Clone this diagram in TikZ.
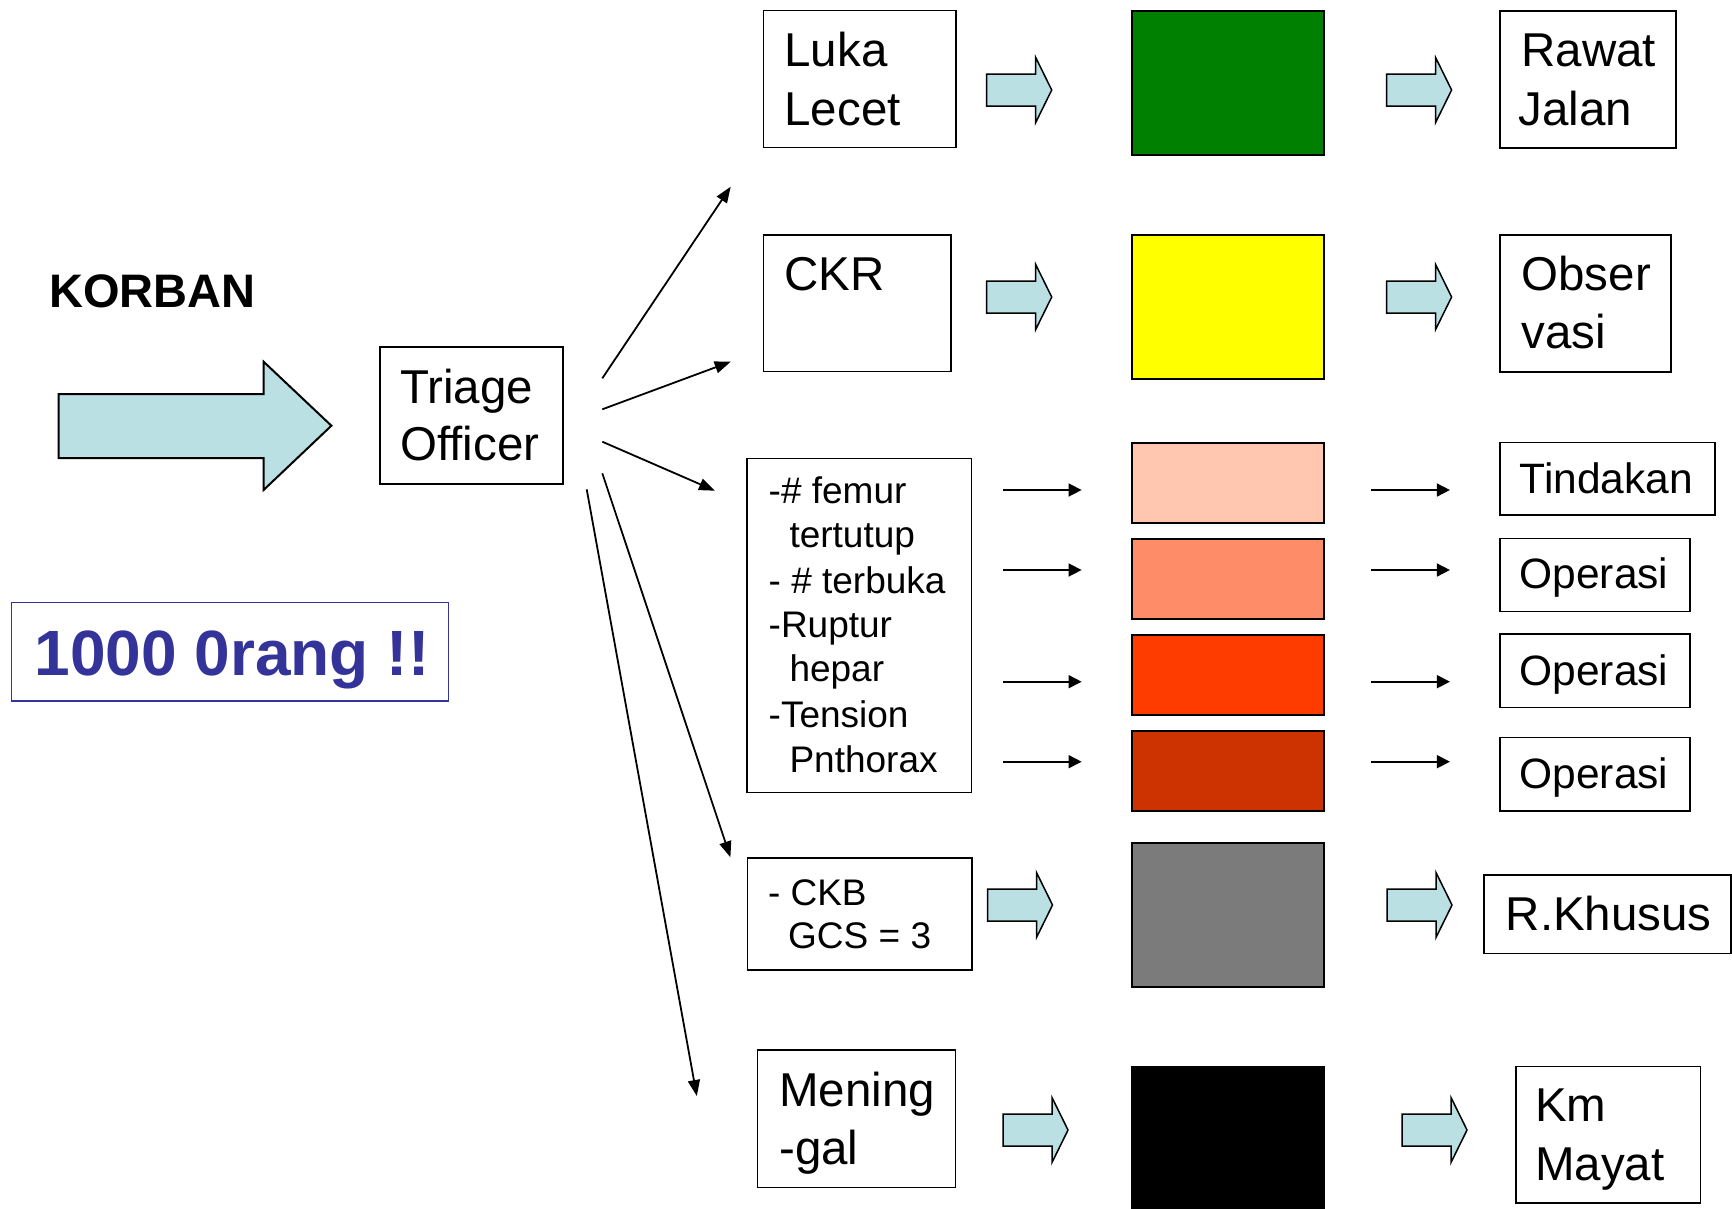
\documentclass[tikz,border=0pt]{standalone}
\usepackage{fontspec}
\setmainfont{Liberation Sans}
\usetikzlibrary{arrows.meta}

\definecolor{arrowblue}{HTML}{BBE0E3}
\definecolor{titleblue}{HTML}{333399}
\definecolor{tgreen}{HTML}{008000}
\definecolor{tyellow}{HTML}{FFFF00}
\definecolor{tpeach}{HTML}{FFC6B0}
\definecolor{tsalmon}{HTML}{FF8C69}
\definecolor{tred}{HTML}{FF3C00}
\definecolor{tdarkred}{HTML}{CC3300}
\definecolor{tgray}{HTML}{7B7B7B}

\tikzset{
  box/.style={draw=black, line width=1.5pt, rectangle, inner sep=0pt, anchor=north west, fill=white},
  swatch/.style={draw=black, line width=2.2pt, rectangle, inner sep=0pt, anchor=north west},
  big/.style={font=\fontsize{47.5}{57}\selectfont, inner sep=0pt, anchor=base west},
  mid/.style={font=\fontsize{42.5}{50}\selectfont, inner sep=0pt, anchor=base west},
  small/.style={font=\fontsize{37}{44}\selectfont, inner sep=0pt, anchor=base west},
  fan/.style={line width=1.8pt, -{Triangle[length=16pt,width=12pt]}},
  thin/.style={line width=1.6pt, -{Triangle[length=13pt,width=13pt]}},
  blockarrow/.pic={
    \draw[fill=arrowblue, line width=1.5pt, line join=miter]
      (0,-16) -- (49,-16) -- (49,-32.5) -- (65,0) -- (49,32.5) -- (49,16) -- (0,16) -- cycle;
  }
}

\begin{document}
\begin{tikzpicture}[x=1pt, y=-1pt]
\useasboundingbox (0,0) rectangle (1732,1208);
\fill[white] (0,0) rectangle (1732,1208);
\clip (0,0) rectangle (1732,1208);

% left side: victims, incoming arrow, triage officer
\node[font=\fontsize{47}{56}\selectfont\bfseries, inner sep=0pt, anchor=base west] (korban) at (49,307) {KORBAN};
\draw[fill=arrowblue, line width=2pt, line join=miter]
  (58.6,394) -- (263.6,394) -- (263.6,361.7) -- (331.4,425.7) -- (263.6,490) -- (263.6,458) -- (58.6,458) -- cycle;
\node[box, minimum width=183pt, minimum height=137pt] (triage) at (379,346) {};
\node[big] (triage-a) at (400,403) {Triage};
\node[big] (triage-b) at (400,460) {Officer};

\node[box, draw=titleblue, line width=1.6pt, minimum width=436.8pt, minimum height=98.3pt] (count) at (10.7,601.7) {};
\node[font=\fontsize{64}{72}\selectfont\bfseries, text=titleblue, inner sep=0pt, anchor=base west] (count-t) at (34.5,675) {1000 0rang !!};

% fan of arrows out of the triage officer
\coordinate (f1s) at (602.3,378.3); \coordinate (f1e) at (730.7,186.7);
\coordinate (f2s) at (602.3,409.3); \coordinate (f2e) at (730.7,361.7);
\coordinate (f3s) at (602.3,441.7); \coordinate (f3e) at (715,490.7);
\coordinate (f4s) at (602.3,473.3); \coordinate (f4e) at (730.4,857.3);
\coordinate (f5s) at (586.7,489.3); \coordinate (f5e) at (696.8,1096);
\foreach \i in {1,...,5} \draw[fan] (f\i s) -- (f\i e);

% row 1: green
\node[box, minimum width=192.3pt, minimum height=137pt] (luka) at (762.8,9.7) {};
\node[big] (luka-a) at (784.3,66.7) {Luka};
\node[big] (luka-b) at (784.3,125) {Lecet};
\pic at (986.7,90) {blockarrow};
\node[swatch, fill=tgreen, minimum width=191.7pt, minimum height=144pt] (green) at (1131,10) {};
\pic at (1386.6,90) {blockarrow};
\node[box, minimum width=175.9pt, minimum height=137pt] (rawat) at (1499.2,10) {};
\node[big] (rawat-a) at (1521.3,66.7) {Rawat};
\node[big] (rawat-b) at (1518.5,125) {Jalan};

% row 2: yellow
\node[box, minimum width=187.2pt, minimum height=136.7pt] (ckr) at (762.8,234) {};
\node[big] (ckr-a) at (784.3,290) {CKR};
\pic at (986.7,297) {blockarrow};
\node[swatch, fill=tyellow, minimum width=191.7pt, minimum height=143.7pt] (yellow) at (1131,234) {};
\pic at (1386.6,297) {blockarrow};
\node[box, minimum width=170.8pt, minimum height=137pt] (obser) at (1499.2,234) {};
\node[big] (obser-a) at (1521.3,290) {Obser};
\node[big] (obser-b) at (1521.3,348) {vasi};

% row 3: red shades
\node[box, minimum width=224.6pt, minimum height=334pt] (list) at (746.3,457.7) {};
\node[small] (l1) at (768.5,503) {-\# femur};
\node[small] (l2) at (789.3,547) {tertutup};
\node[small] (l3) at (768.5,593) {- \# terbuka};
\node[small] (l4) at (768.5,637) {-Ruptur};
\node[small] (l5) at (789.3,681) {hepar};
\node[small] (l6) at (768.5,727) {-Tension};
\node[small] (l7) at (789.3,772) {Pnthorax};

\node[swatch, fill=tpeach, minimum width=191.7pt, minimum height=80pt] (peach) at (1131,441.7) {};
\node[swatch, fill=tsalmon, minimum width=191.7pt, minimum height=80pt] (salmon) at (1131,537.7) {};
\node[swatch, fill=tred, minimum width=191.7pt, minimum height=80pt] (red) at (1131,634) {};
\node[swatch, fill=tdarkred, minimum width=191.7pt, minimum height=80pt] (darkred) at (1131,730) {};

\foreach \y in {490,570,681.7,761.7} {
  \draw[thin] (1002.6,\y) -- (1081.6,\y);
  \draw[thin] (1370.8,\y) -- (1449.9,\y);
}

\node[box, minimum width=215pt, minimum height=72.6pt] (tind) at (1499.2,441.7) {};
\node[mid] (tind-a) at (1519.4,493) {Tindakan};
\node[box, minimum width=189.8pt, minimum height=73pt] (op1) at (1499.2,537.7) {};
\node[mid] (op1-a) at (1519.4,588) {Operasi};
\node[box, minimum width=189.8pt, minimum height=73.4pt] (op2) at (1499.2,633.3) {};
\node[mid] (op2-a) at (1519.4,685) {Operasi};
\node[box, minimum width=189.8pt, minimum height=73.3pt] (op3) at (1499.2,736.7) {};
\node[mid] (op3-a) at (1519.4,788) {Operasi};

% row 4: gray
\node[box, minimum width=224.2pt, minimum height=111.7pt] (ckb) at (746.8,857.3) {};
\node[small] (ckb-a) at (767.8,905) {- CKB};
\node[small] (ckb-b) at (788,948.3) {GCS = 3};
\pic at (987.5,905) {blockarrow};
\node[swatch, fill=tgray, minimum width=191.7pt, minimum height=144pt] (gray) at (1131,841.7) {};
\pic at (1387,905) {blockarrow};
\node[box, minimum width=247pt, minimum height=78.7pt] (khusus) at (1483,874) {};
\node[big] (khusus-a) at (1505.5,930) {R.Khusus};

% row 5: black
\node[box, minimum width=198pt, minimum height=137.4pt] (mening) at (756.6,1049.3) {};
\node[big] (mening-a) at (779,1106) {Mening};
\node[big] (mening-b) at (779,1164) {-gal};
\pic at (1003,1130) {blockarrow};
\node[swatch, fill=black, minimum width=191.7pt, minimum height=150pt] (black) at (1131,1065.7) {};
\pic at (1402,1130) {blockarrow};
\node[box, minimum width=184.7pt, minimum height=136.3pt] (km) at (1515,1065.7) {};
\node[big] (km-a) at (1535,1121.7) {Km};
\node[big] (km-b) at (1535,1180) {Mayat};
\end{tikzpicture}
\end{document}
